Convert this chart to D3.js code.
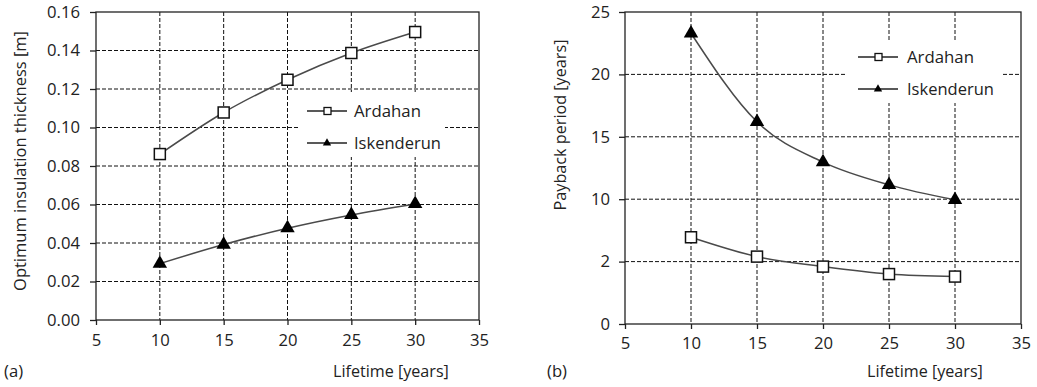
<!DOCTYPE html>
<html><head><meta charset="utf-8">
<script src="https://cdn.jsdelivr.net/npm/d3@7"></script>
<style>body{margin:0;background:#fff}svg{display:block}text{font-family:"Open Sans",sans-serif;fill:#222}</style>
</head><body><svg id="c" width="1037" height="387"></svg>
<script>
const lifetime = [10, 15, 20, 25, 30];
const thickArdahan = [0.0862, 0.1078, 0.1248, 0.1387, 0.1496];
const thickIskenderun = [0.0293, 0.0392, 0.0477, 0.0546, 0.0603];
const payArdahan = [6.95, 5.4, 4.6, 4.0, 3.8];
const payIskenderun = [23.3, 16.2, 12.97, 11.15, 9.95];
const xTicks = [5, 10, 15, 20, 25, 30, 35];
const yTicksA = [0, 0.02, 0.04, 0.06, 0.08, 0.10, 0.12, 0.14, 0.16];
const yTicksB = [0, 5, 10, 15, 20, 25];
const yTickLabelsB = ["0", "2", "10", "15", "20", "25"];
const seriesNames = ["Ardahan", "Iskenderun"];

const svg = d3.select("#c");

// size text so that its width matches a target width
function fit(sel, w) {
  const n = sel.node();
  const fs = parseFloat(sel.attr("font-size"));
  const len = n.getComputedTextLength();
  if (len > 0) sel.attr("font-size", (fs * w / len).toFixed(2));
  return sel;
}
// determine tick font size from "0.16" width
const probe = svg.append("text").attr("font-size", 16).text("0.16");
const tickFS = 16 * 33 / probe.node().getComputedTextLength();
probe.remove();

function panel(o) {
  const g = svg.append("g");
  const x = d3.scaleLinear().domain([5, 35]).range([o.left, o.right]);
  const y = d3.scaleLinear().domain(o.ydom).range([o.bottom, o.top]);
  g.append("g").selectAll("line").data(o.yticks.slice(1, -1)).join("line")
    .attr("x1", o.left).attr("x2", o.right).attr("y1", d => y(d)).attr("y2", d => y(d))
    .attr("stroke", "#111").attr("stroke-width", 1).attr("stroke-dasharray", "4,2");
  g.append("g").selectAll("line").data(xTicks.slice(1, -1)).join("line")
    .attr("y1", o.top).attr("y2", o.bottom).attr("x1", d => x(d)).attr("x2", d => x(d))
    .attr("stroke", "#111").attr("stroke-width", 1).attr("stroke-dasharray", "4,2");
  g.append("rect").attr("x", o.leg.bx).attr("y", o.leg.by).attr("width", o.leg.bw).attr("height", o.leg.bh).attr("fill", "#fff");
  g.append("rect").attr("x", o.left).attr("y", o.top).attr("width", o.right - o.left).attr("height", o.bottom - o.top)
    .attr("fill", "none").attr("stroke", "#222").attr("stroke-width", 1.3);
  const xa = g.append("g").attr("transform", `translate(0,${o.bottom})`)
    .call(d3.axisBottom(x).tickValues(xTicks).tickSize(5).tickPadding(o.xpad));
  const ya = g.append("g").attr("transform", `translate(${o.left},0)`)
    .call(d3.axisLeft(y).tickValues(o.yticks).tickSize(6).tickPadding(o.ypad).tickFormat((d, i) => o.ylabels[i]));
  [xa, ya].forEach(a => {
    a.select(".domain").remove();
    a.selectAll("line").attr("stroke", "#222").attr("stroke-width", 1.3);
    a.selectAll("text").attr("font-size", tickFS).attr("font-family", "Open Sans").attr("fill", "#222");
  });
  const line = d3.line().x((d, i) => x(lifetime[i])).y(d => y(d)).curve(d3.curveMonotoneX);
  o.series.forEach(s => {
    g.append("path").attr("d", line(s)).attr("fill", "none").attr("stroke", "#4a4a4a").attr("stroke-width", 1.5);
  });
  const sq = o.sq;
  g.append("g").selectAll("rect").data(o.series[0]).join("rect")
    .attr("x", (d, i) => x(lifetime[i]) - sq / 2).attr("y", d => y(d) - sq / 2)
    .attr("width", sq).attr("height", sq).attr("fill", "#fff").attr("stroke", "#111").attr("stroke-width", 1.5);
  const tri = d3.symbol().type(d3.symbolTriangle).size(o.tri);
  g.append("g").selectAll("path").data(o.series[1]).join("path")
    .attr("transform", (d, i) => `translate(${x(lifetime[i])},${y(d)})`).attr("d", tri).attr("fill", "#000");
  const L = o.leg;
  seriesNames.forEach((n, k) => {
    const ly = L.y + k * L.dy;
    g.append("line").attr("x1", L.x).attr("x2", L.x + 40).attr("y1", ly).attr("y2", ly).attr("stroke", "#222").attr("stroke-width", 1.5);
    if (k === 0) g.append("rect").attr("x", L.x + 17).attr("y", ly - 3.5).attr("width", 7).attr("height", 7).attr("fill", "#fff").attr("stroke", "#111").attr("stroke-width", 1.3);
    else g.append("path").attr("transform", `translate(${L.x + 20},${ly})`).attr("d", d3.symbol().type(d3.symbolTriangle).size(30)).attr("fill", "#000");
    fit(g.append("text").attr("x", L.tx).attr("y", ly).attr("dy", "0.35em").attr("font-size", 16).text(n), L.tw[k]);
  });
  fit(g.append("text").attr("x", o.xtitleX).attr("y", 371).attr("dy", "0.35em").attr("font-size", 16).text("Lifetime [years]"), 116);
  g.append("text").attr("x", o.tagX).attr("y", 371).attr("dy", "0.35em").attr("font-size", tickFS).text(o.tag);
  fit(g.append("text").attr("transform", `translate(${o.ytitleX},${o.ytitleY}) rotate(-90)`).attr("text-anchor", "middle")
    .attr("dy", "0.35em").attr("font-size", 15).text(o.ytitle), o.ytitleW);
}

panel({
  left: 96, right: 479, top: 12, bottom: 320, ydom: [0, 0.16], yticks: yTicksA,
  ylabels: yTicksA.map(d => d.toFixed(2)), series: [thickArdahan, thickIskenderun],
  sq: 11, tri: 90, xpad: 9, ypad: 10,
  leg: {x: 307, tx: 354, tw: [67, 87], y: 111, dy: 32, bx: 299, by: 92, bw: 146, bh: 65},
  xtitleX: 333, tagX: 4, tag: "(a)", ytitleX: 20, ytitleY: 161, ytitle: "Optimum insulation thickness [m]", ytitleW: 260
});
panel({
  left: 625, right: 1021, top: 12, bottom: 324, ydom: [0, 25], yticks: yTicksB,
  ylabels: yTickLabelsB, series: [payArdahan, payIskenderun],
  sq: 11, tri: 90, xpad: 8, ypad: 9,
  leg: {x: 858, tx: 907, tw: [67, 87], y: 57, dy: 32, bx: 845, by: 40, bw: 157, bh: 63},
  xtitleX: 867, tagX: 547, tag: "(b)", ytitleX: 560, ytitleY: 125, ytitle: "Payback period [years]", ytitleW: 171
});
</script></body></html>
